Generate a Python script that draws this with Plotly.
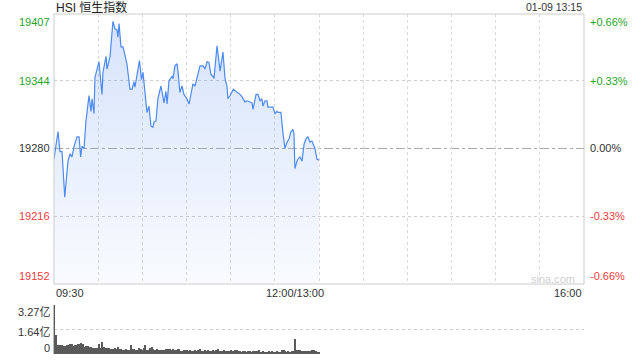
import plotly.graph_objects as go

# ---------------- data ----------------
title_text = "HSI 恒生指数"
stamp_text = "01-09 13:15"

# session minutes from 09:30 (morning 0-150, afternoon 150-330 = 13:00-16:00)
price_minute = [0, 2.5, 3.7, 5.0, 6.7, 8.7, 10.0, 11.2, 12.5, 14.3, 15.6, 16.6, 17.4, 18.7, 19.9,
                21.8, 23.0, 23.7, 24.9, 25.5, 28.0, 29.9, 30.5, 32.4, 33.0, 34.9, 36.7, 38.0, 39.2,
                39.8, 40.5, 41.7, 43.0, 44.8, 45.4, 47.3, 48.6, 49.8, 50.4, 53.2, 54.5, 55.4, 57.0,
                57.9, 59.1, 60.4, 61.6, 62.3, 63.5, 64.7, 66.6, 67.9, 68.5, 69.7, 70.4, 71.6, 73.5,
                74.1, 75.3, 76.6, 77.2, 78.4, 79.7, 80.9, 82.8, 84.1, 85.9, 86.5, 87.8, 89.0, 90.9,
                92.8, 94.0, 95.3, 96.5, 97.7, 99.0, 99.6, 101.5, 102.7, 103.4, 105.2, 106.5, 107.7,
                108.3, 109.6, 111.7, 113.9, 115.2, 117.0, 118.9, 120.2, 122.0, 123.3, 123.9, 125.8,
                127.0, 128.3, 129.5, 130.1, 131.4, 132.6, 133.2, 135.7, 136.3, 137.6, 138.8, 139.5,
                141.3, 142.6, 143.2, 143.8, 145.1, 146.3, 147.6, 148.8, 149.4, 150.0, 151.3, 151.9,
                153.2, 154.4, 155.7, 156.9, 158.1, 159.4, 160.6, 161.3, 162.5, 163.7, 165.0]
price_value = [19270, 19296, 19277, 19277, 19234, 19268, 19275, 19272, 19282, 19291, 19291, 19272,
               19282, 19280, 19306, 19330, 19315, 19327, 19313, 19347, 19362, 19331, 19352, 19367,
               19355, 19367, 19400, 19393, 19392, 19385, 19398, 19376, 19376, 19362, 19360, 19336,
               19336, 19343, 19338, 19363, 19345, 19352, 19325, 19314, 19320, 19301, 19300, 19305,
               19306, 19327, 19339, 19325, 19323, 19334, 19322, 19344, 19348, 19346, 19358, 19360,
               19353, 19333, 19339, 19331, 19327, 19322, 19339, 19341, 19339, 19346, 19358, 19358,
               19355, 19362, 19361, 19350, 19348, 19346, 19377, 19362, 19353, 19371, 19346, 19339,
               19327, 19330, 19336, 19333, 19332, 19329, 19324, 19325, 19324, 19323, 19317, 19331,
               19331, 19325, 19327, 19320, 19325, 19325, 19319, 19319, 19319, 19313, 19315, 19314,
               19314, 19294, 19284, 19280, 19286, 19289, 19296, 19298, 19294, 19261, 19268, 19270,
               19272, 19268, 19284, 19289, 19291, 19286, 19287, 19284, 19280, 19270, 19269]

# volume (亿) per minute, minute 0..165
volume = [3.27, 1.29, 0.62, 0.62, 0.60, 0.58, 0.56, 0.56, 0.58, 0.62,
          0.66, 0.69, 0.56, 0.60, 0.62, 0.66, 0.68, 0.71, 0.69, 0.50,
          0.56, 0.55, 0.49, 0.45, 0.43, 0.41, 0.40, 0.42, 0.69, 0.40,
          0.82, 0.45, 0.42, 0.38, 0.40, 0.36, 0.33, 0.35, 0.38, 0.31,
          0.47, 0.33, 0.31, 0.29, 0.27, 0.31, 0.29, 0.30, 0.60, 0.31,
          0.33, 0.30, 0.29, 0.38, 0.31, 0.27, 0.40, 0.58, 0.29, 0.25,
          0.38, 0.45, 0.33, 0.25, 0.33, 0.29, 0.25, 0.27, 0.25, 0.29,
          0.33, 0.36, 0.31, 0.27, 0.36, 0.25, 0.27, 0.33, 0.36, 0.20,
          0.20, 0.24, 0.30, 0.30, 0.20, 0.24, 0.18, 0.22, 0.27, 0.20,
          0.24, 0.33, 0.22, 0.20, 0.27, 0.20, 0.30, 0.20, 0.22, 0.24,
          0.20, 0.27, 0.36, 0.20, 0.22, 0.18, 0.24, 0.20, 0.22, 0.18,
          0.24, 0.20, 0.22, 0.24, 0.27, 0.20, 0.22, 0.16, 0.20, 0.18,
          0.16, 0.20, 0.18, 0.16, 0.20, 0.18, 0.22, 0.20, 0.24, 0.16,
          0.18, 0.13, 0.16, 0.13, 0.18, 0.16, 0.18, 0.13, 0.16, 0.18,
          0.16, 0.13, 0.24, 0.27, 0.20, 0.16, 0.18, 0.16, 0.20, 0.22,
          1.00, 0.29, 0.29, 0.24, 0.20, 0.20, 0.22, 0.20, 0.20, 0.22,
          0.20, 0.24, 0.27, 0.18, 0.13, 0.10]
volume_minute = list(range(len(volume)))

price_ticks = [19407, 19344, 19280, 19216, 19152]
pct_ticks = ["+0.66%", "+0.33%", "0.00%", "-0.33%", "-0.66%"]
prev_close = 19280
time_ticks = [0, 150, 330]
time_labels = ["09:30", "12:00/13:00", "16:00"]
vol_ticks = [3.27, 1.64, 0]
vol_labels = ["3.27亿", "1.64亿", "0"]

# ---------------- styling ----------------
W, H = 640, 360
FONT = "Arial, 'Liberation Sans', 'Noto Sans CJK SC', sans-serif"
GREEN, RED, BLACK = "#1fa51f", "#f23a3a", "#333333"
L, R = 54, 584
MT, MB = 14, 284
VT, VB = 305, 354


def fx(px):
    return px / W


def fy(py):
    return 1 - py / H


fig = go.Figure()
fig.add_trace(go.Scatter(
    x=price_minute, y=price_value, mode="lines",
    line=dict(color="#4d8af0", width=1.2),
    fill="tozeroy",
    fillgradient=dict(type="vertical", start=price_ticks[-1], stop=price_ticks[0],
                      colorscale=[[0, "rgba(100,150,240,0.04)"], [1, "rgba(100,150,240,0.27)"]]),
    hoverinfo="skip", showlegend=False, xaxis="x", yaxis="y"))

fig.add_trace(go.Bar(
    x=volume_minute, y=volume, width=0.75,
    marker=dict(color="#5a5a5a", line=dict(width=0)),
    hoverinfo="skip", showlegend=False, xaxis="x2", yaxis="y2"))

annotations = []
for v, txt in zip(price_ticks, pct_ticks):
    col = GREEN if v > prev_close else (RED if v < prev_close else BLACK)
    anc = "top" if v == price_ticks[0] else ("bottom" if v == price_ticks[-1] else "middle")
    annotations.append(dict(x=fx(L - 2), y=v, xref="paper", yref="y", text=str(v), showarrow=False,
                            xanchor="right", yanchor=anc, font=dict(size=11, color=col, family=FONT)))
    annotations.append(dict(x=fx(R + 4), y=v, xref="paper", yref="y", text=txt, showarrow=False,
                            xanchor="left", yanchor=anc, font=dict(size=11, color=col, family=FONT)))

for t, txt in zip(time_ticks, time_labels):
    anc = "left" if t == time_ticks[0] else ("right" if t == time_ticks[-1] else "center")
    annotations.append(dict(x=t, y=fy(293), xref="x", yref="paper", text=txt, showarrow=False,
                            xanchor=anc, yanchor="middle", font=dict(size=11, color=BLACK, family=FONT)))

vol_label_y = [312, 332, 348]
for yy, txt in zip(vol_label_y, vol_labels):
    annotations.append(dict(x=fx(L - 2), y=fy(yy), xref="paper", yref="paper", text=txt, showarrow=False,
                            xanchor="right", yanchor="middle", font=dict(size=11, color=BLACK, family=FONT)))

annotations.append(dict(x=fx(L), y=fy(7.5), xref="paper", yref="paper", text=title_text, showarrow=False,
                        xanchor="left", yanchor="middle", font=dict(size=12, color="#222", family=FONT)))
annotations.append(dict(x=fx(R), y=fy(7), xref="paper", yref="paper", text=stamp_text, showarrow=False,
                        xanchor="right", yanchor="middle", font=dict(size=10.5, color=BLACK, family=FONT)))
annotations.append(dict(x=fx(553), y=fy(279), xref="paper", yref="paper", text="sina.com", showarrow=False,
                        xanchor="center", yanchor="middle", font=dict(size=11, color="#cfcfcf", family=FONT)))

shapes = [
    dict(type="line", xref="paper", yref="y", x0=fx(L), x1=fx(R), y0=prev_close, y1=prev_close,
         line=dict(color="#aaaaaa", width=1, dash="dashdot"), layer="below"),
    dict(type="rect", xref="paper", yref="paper", x0=fx(L), x1=fx(R), y0=fy(MB), y1=fy(MT),
         line=dict(color="#cccccc", width=1), fillcolor="rgba(0,0,0,0)"),
]

fig.update_layout(
    width=W, height=H, margin=dict(l=0, r=0, t=0, b=0),
    paper_bgcolor="white", plot_bgcolor="white",
    font=dict(family=FONT),
    xaxis=dict(domain=[fx(L), fx(R)], range=[0, 330], tick0=0, dtick=27.5, showgrid=True,
               gridcolor="#d9d9d9", griddash="dot", gridwidth=1, showticklabels=False,
               zeroline=False, showline=False, ticks="", anchor="y"),
    yaxis=dict(domain=[fy(MB), fy(MT)], range=[price_ticks[-1], price_ticks[0]],
               tickvals=[price_ticks[1], price_ticks[3]], showgrid=True, gridcolor="#cfcfcf",
               griddash="dot", showticklabels=False, zeroline=False, showline=False, ticks="",
               anchor="x"),
    xaxis2=dict(domain=[fx(L), fx(R)], range=[0, 330], showgrid=False, showticklabels=False,
                zeroline=False, showline=False, ticks="", anchor="y2"),
    yaxis2=dict(domain=[fy(VB), fy(VT)], range=[0, vol_ticks[0]], tickvals=vol_ticks,
                showgrid=True, gridcolor="#cfcfcf", griddash="dot", showticklabels=False,
                zeroline=False, showline=True, linecolor="#bbbbbb", linewidth=1, ticks="",
                anchor="x2"),
    bargap=0,
    annotations=annotations,
    shapes=shapes,
)

fig.write_html("out.html")
